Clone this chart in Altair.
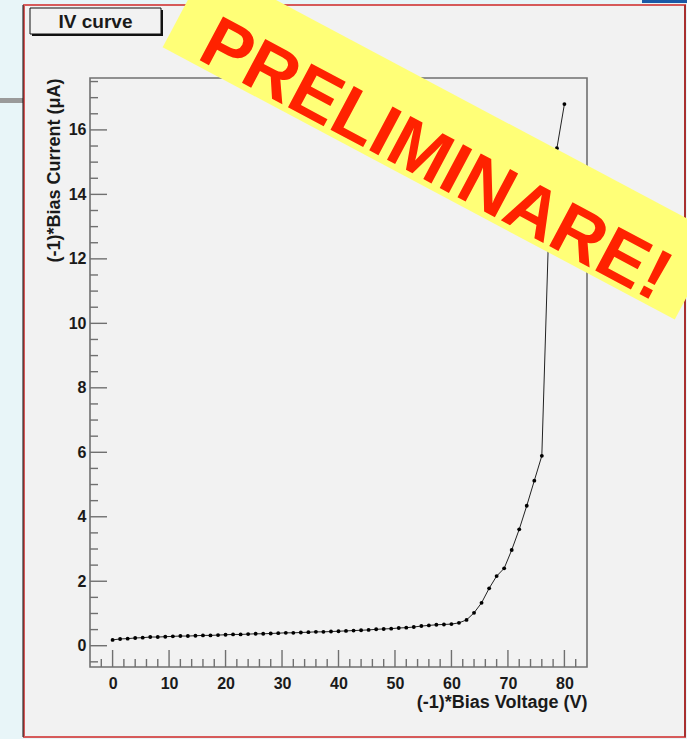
import altair as alt
import pandas as pd

# ---------------- data ----------------
voltage = [0, 1.33, 2.67, 4, 5.33, 6.67, 8, 9.33, 10.67, 12,
           13.33, 14.67, 16, 17.33, 18.67, 20, 21.33, 22.67, 24, 25.33,
           26.67, 28, 29.33, 30.67, 32, 33.33, 34.67, 36, 37.33, 38.67,
           40, 41.33, 42.67, 44, 45.33, 46.67, 48, 49.33, 50.67, 52,
           53.33, 54.67, 56, 57.33, 58.67, 60, 61.33, 62.67, 64, 65.33,
           66.67, 68, 69.33, 70.67, 72, 73.33, 74.67, 76, 77.33, 78.67,
           80]
current = [0.18, 0.21, 0.22, 0.24, 0.25, 0.27, 0.27, 0.28, 0.29, 0.30,
           0.30, 0.31, 0.32, 0.32, 0.33, 0.34, 0.35, 0.35, 0.36, 0.37,
           0.37, 0.38, 0.39, 0.40, 0.40, 0.41, 0.42, 0.43, 0.43, 0.44,
           0.45, 0.46, 0.47, 0.48, 0.49, 0.51, 0.52, 0.53, 0.55, 0.56,
           0.58, 0.61, 0.63, 0.65, 0.66, 0.67, 0.71, 0.80, 1.02, 1.33,
           1.78, 2.16, 2.40, 2.97, 3.61, 4.34, 5.12, 5.89, 13.5, 15.43,
           16.80]

x_major = [0, 10, 20, 30, 40, 50, 60, 70, 80]
x_minor = [-2, 2, 4, 6, 8, 12, 14, 16, 18, 22, 24, 26, 28, 32, 34, 36, 38,
           42, 44, 46, 48, 52, 54, 56, 58, 62, 64, 66, 68, 72, 74, 76, 78, 82]
y_major = [0, 2, 4, 6, 8, 10, 12, 14, 16]
y_minor = [-0.5, 0.5, 1, 1.5, 2.5, 3, 3.5, 4.5, 5, 5.5, 6.5, 7, 7.5, 8.5, 9,
           9.5, 10.5, 11, 11.5, 12.5, 13, 13.5, 14.5, 15, 15.5, 16.5, 17, 17.5]

title_text = "IV curve"
x_title = "(-1)*Bias Voltage (V)"
y_title = "(-1)*Bias Current (\u03bcA)"
banner_text = "PRELIMINARE!"

# ---------------- layout ----------------
W, H = 497, 589
FONT = "Liberation Sans"
TXT = "#1a1a1a"
TICK = "#707070"
ANGLE = 28

xs = alt.Scale(domain=[-4, 84], nice=False, zero=False)
ys = alt.Scale(domain=[-0.66, 17.61], nice=False, zero=False)

AX_X = alt.Axis(
    values=x_major, ticks=False, domain=False, grid=False, format="d",
    labelFont=FONT, labelFontWeight="bold", labelFontSize=16, labelColor=TXT,
    labelPadding=8, labelFlush=False, zindex=1,
    title=x_title, titleFont=FONT, titleFontWeight="bold", titleFontSize=18,
    titleColor=TXT, titleX=W, titleY=40, titleAlign="right", titleAnchor="end",
    titleBaseline="alphabetic")
AX_Y = alt.Axis(
    values=y_major, ticks=False, domain=False, grid=False, format="d",
    labelFont=FONT, labelFontWeight="bold", labelFontSize=16, labelColor=TXT,
    labelPadding=4, labelFlush=False, zindex=1,
    title=y_title, titleFont=FONT, titleFontWeight="bold", titleFontSize=18,
    titleColor=TXT, titleAngle=270, titleX=-31, titleY=0, titleAlign="right",
    titleBaseline="alphabetic")

df = pd.DataFrame({"v": voltage, "i": current})
one = pd.DataFrame({"a": [0]})


def box(x, x2, y, y2, **kw):
    return alt.Chart(one).mark_rect(**kw).encode(
        x=alt.value(x), x2=alt.value(x2), y=alt.value(y), y2=alt.value(y2))


def vrule(x, y, y2, **kw):
    return alt.Chart(one).mark_rule(**kw).encode(
        x=alt.value(x), y=alt.value(y), y2=alt.value(y2))


# page decorations
grey_bar = box(-90, -66, 20, 25, fill="#9a9a9a")
blue_bit = box(552, 597, -78, -75, fill="#1c5aa6")
panel = box(-66, 595, -73, 659, fill="#f2f2f2", stroke="#d65a5a", strokeWidth=2)
left_edge = vrule(-67, -73, 659, color="#111111", strokeWidth=1)
right_edge = vrule(595, -73, 659, color="#a83030", strokeWidth=2)

# title box with shadow
shadow = box(-58, 73, -68, -42, fill="#111111")
tbox = box(-60, 71, -70, -44, fill="#f2f2f2", stroke="#111111", strokeWidth=1)
ttext = alt.Chart(one).mark_text(
    text=title_text, font=FONT, fontWeight="bold", fontSize=19, color=TXT,
    align="center", baseline="alphabetic").encode(x=alt.value(5.5), y=alt.value(-50.5))

# frame
frame = box(0, W, 0, H, fillOpacity=0, stroke=TICK, strokeWidth=1.6)

# data line (carries the axes)
line = alt.Chart(df).mark_line(color="#222222", strokeWidth=1).encode(
    x=alt.X("v:Q", scale=xs, axis=AX_X),
    y=alt.Y("i:Q", scale=ys, axis=AX_Y),
    order=alt.Order("v:Q"))
pts = alt.Chart(df).mark_circle(color="#000000", size=15, opacity=1).encode(
    x=alt.X("v:Q", scale=xs, axis=AX_X), y=alt.Y("i:Q", scale=ys, axis=AX_Y))

# ticks (inside the frame, ROOT style)
xt_maj = alt.Chart(pd.DataFrame({"v": x_major})).mark_rule(color=TICK, strokeWidth=1.4).encode(
    x=alt.X("v:Q", scale=xs, axis=AX_X), y=alt.value(H), y2=alt.value(H - 17))
xt_min = alt.Chart(pd.DataFrame({"v": x_minor})).mark_rule(color=TICK, strokeWidth=1.4).encode(
    x=alt.X("v:Q", scale=xs, axis=AX_X), y=alt.value(H), y2=alt.value(H - 8))
yt_maj = alt.Chart(pd.DataFrame({"i": y_major})).mark_rule(color=TICK, strokeWidth=1.4).encode(
    y=alt.Y("i:Q", scale=ys, axis=AX_Y), x=alt.value(0), x2=alt.value(17))
yt_min = alt.Chart(pd.DataFrame({"i": y_minor})).mark_rule(color=TICK, strokeWidth=1.4).encode(
    y=alt.Y("i:Q", scale=ys, axis=AX_Y), x=alt.value(0), x2=alt.value(8))

# PRELIMINARE banner
banner = alt.Chart(one).mark_point(
    shape="M-1,-0.1638L1,-0.1638L1,0.1638L-1,0.1638Z", filled=True,
    fill="#ffff77", opacity=1, fillOpacity=1, strokeWidth=0, angle=ANGLE,
    size=336400).encode(x=alt.value(351), y=alt.value(63.5))
btext = alt.Chart(one).mark_text(
    text=banner_text, font=FONT, fontWeight="bold", fontSize=72, color="#ff2200",
    angle=ANGLE, align="center", baseline="alphabetic").encode(
    x=alt.value(335), y=alt.value(102))

chart = alt.layer(
    grey_bar, blue_bit, panel, left_edge, right_edge, shadow, tbox, ttext,
    frame, line, pts, xt_maj, xt_min, yt_maj, yt_min, banner, btext
).properties(
    width=W, height=H,
    padding={"left": 90, "top": 78, "right": 100, "bottom": 72},
    autosize=alt.AutoSizeParams(type="none"),
    background="#e8f5f8",
).configure_view(strokeWidth=0)

chart.save("out.html", embed_options={"renderer": "svg", "actions": False})
